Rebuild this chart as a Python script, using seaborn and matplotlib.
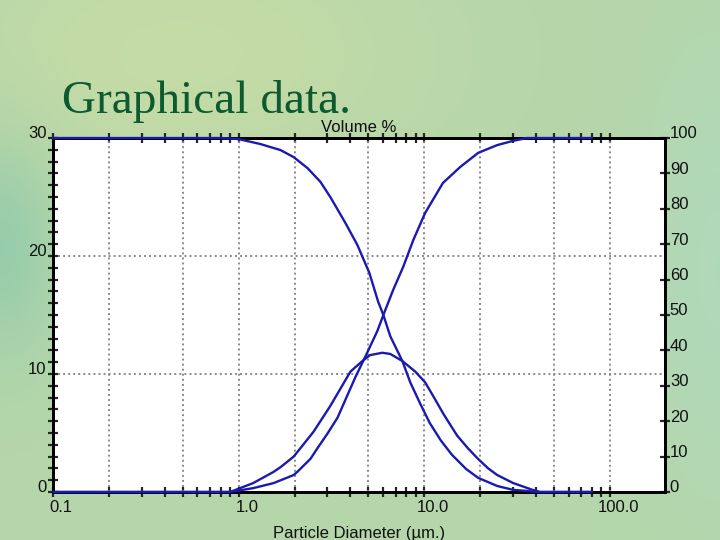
import numpy as np
import pandas as pd
import matplotlib
matplotlib.use("Agg")
import matplotlib.pyplot as plt
import matplotlib.ticker as mticker
import matplotlib.transforms as mtrans
import seaborn as sns

# ---------------- data ----------------
# differential volume % (left axis)
diam_freq = [0.1, 0.9, 1.2, 1.54, 1.68, 1.98, 2.53, 3.12, 4.0, 4.64, 5.1, 5.94,
             6.56, 7.62, 8.95, 10.1, 11.2, 12.7, 15.0, 17.2, 19.5, 22.1, 24.7,
             30.1, 38.5, 42.0, 80.0]
vol_freq = [0, 0, 0.76, 1.7, 2.1, 3.0, 5.1, 7.3, 10.2, 11.1, 11.6, 11.8,
            11.7, 11.1, 10.2, 9.3, 8.1, 6.6, 4.8, 3.7, 2.8, 2.0, 1.44,
            0.76, 0.17, 0, 0]

# cumulative undersize % (right axis)
diam_under = [0.1, 0.9, 1.2, 1.54, 1.98, 2.10, 2.44, 2.66, 3.01, 3.41, 3.67,
              4.26, 4.82, 5.59, 6.02, 6.8, 7.7, 8.73, 10.1, 12.6, 15.6, 19.5,
              24.7, 30.1, 35.7, 80.0]
cum_under = [0, 0, 1.1, 2.5, 4.8, 6.0, 9.4, 12.4, 16.5, 21.0, 24.8,
             32.5, 38.3, 45.5, 50.0, 57.1, 63.6, 71.2, 78.8, 87.3, 91.8, 95.8,
             98.0, 99.2, 100, 100]

# cumulative oversize % (right axis)
diam_over = [0.1, 0.8, 1.0, 1.31, 1.68, 1.98, 2.35, 2.76, 3.12, 3.76, 4.36,
             5.06, 5.64, 6.02, 6.56, 7.62, 8.4, 9.5, 10.7, 12.3, 14.1, 16.8,
             19.5, 24.7, 30.1, 35.7, 40.0, 80.0]
cum_over = [100, 100, 99.7, 98.3, 96.6, 94.6, 91.5, 87.6, 83.3, 76.0, 69.8,
            61.9, 53.8, 50.0, 44.0, 37.0, 31.0, 25.0, 19.5, 14.5, 10.5, 6.5,
            4.0, 1.7, 0.6, 0.3, 0, 0]

x_tick_vals = [0.1, 1, 10, 100]
x_tick_labels = ["0.1", "1.0", "10.0", "100.0"]
left_ticks = [0, 10, 20, 30]
right_ticks = [0, 10, 20, 30, 40, 50, 60, 70, 80, 90, 100]

title_text = "Graphical data."
top_label = "Volume %"
x_label = "Particle Diameter (\u00b5m.)"

freq_df = pd.DataFrame({"d": diam_freq, "v": vol_freq})
under_df = pd.DataFrame({"d": diam_under, "v": cum_under})
over_df = pd.DataFrame({"d": diam_over, "v": cum_over})

# ---------------- style ----------------
sns.set_style("ticks")
plt.rcParams["font.family"] = ["Liberation Sans", "DejaVu Sans"]

fig = plt.figure(figsize=(7.2, 5.4), dpi=100)

# soft green slide background
bg = fig.add_axes([0, 0, 1, 1], zorder=-10)
H, W = 540, 720
yy = np.linspace(0, 1, H)[:, None] * np.ones((1, W))
xx = np.ones((H, 1)) * np.linspace(0, 1, W)[None, :]
base = np.array([0.71, 0.84, 0.67])
img = np.ones((H, W, 3)) * base
w1 = np.exp(-(((xx - 0.25) / 0.35) ** 2 + ((yy - 0.1) / 0.25) ** 2))
img += w1[..., None] * np.array([0.06, 0.02, -0.02])
w2 = np.exp(-(((xx - 0.0) / 0.08) ** 2 + ((yy - 0.45) / 0.2) ** 2))
img += w2[..., None] * np.array([-0.12, -0.04, 0.0])
w3 = np.exp(-(((xx - 1.0) / 0.1) ** 2 + ((yy - 0.5) / 0.4) ** 2))
img += w3[..., None] * np.array([-0.02, 0.01, 0.06])
img = np.clip(img, 0, 1)
bg.imshow(img, aspect="auto", extent=[0, 1, 0, 1], origin="upper")
bg.set_axis_off()

ax = fig.add_axes([0.0736, 0.0889, 0.85, 0.6555])
ax.set_facecolor("white")
ax.set_xscale("log")
ax.set_xlim(0.1, 198)
ax.set_ylim(0, 30)

line_color = "#1a1ab0"
grid_color = "#8a8a8a"

for gx in [0.2, 0.5, 1, 2, 5, 10, 20, 50, 100]:
    ax.axvline(gx, color=grid_color, lw=1.4, ls=(0, (1, 1.6)), zorder=1)
for gy in [10, 20]:
    ax.axhline(gy, color=grid_color, lw=1.4, ls=(0, (1, 1.6)), zorder=1)

sns.lineplot(data=freq_df, x="d", y="v", ax=ax, color=line_color, lw=1.7,
             sort=False, estimator=None, clip_on=False, zorder=5)

ax2 = ax.twinx()
ax2.set_ylim(0, 100)
sns.lineplot(data=under_df, x="d", y="v", ax=ax2, color=line_color, lw=1.7,
             sort=False, estimator=None, clip_on=False, zorder=5)
sns.lineplot(data=over_df, x="d", y="v", ax=ax2, color=line_color, lw=1.7,
             sort=False, estimator=None, clip_on=False, zorder=5)

for a in (ax, ax2):
    a.set_xlabel("")
    a.set_ylabel("")
    for s in a.spines.values():
        s.set_color("black")
        s.set_linewidth(2)
        s.set_visible(True)

ax.set_xlim(0.1, 198)
ax.xaxis.set_major_locator(mticker.FixedLocator(x_tick_vals))
ax.xaxis.set_major_formatter(mticker.FixedFormatter(x_tick_labels))
ax.xaxis.set_minor_locator(mticker.LogLocator(base=10, subs=np.arange(2, 10), numticks=20))
ax.xaxis.set_minor_formatter(mticker.NullFormatter())
ax.yaxis.set_major_locator(mticker.FixedLocator(left_ticks))
ax.yaxis.set_minor_locator(mticker.MultipleLocator(1))
ax2.yaxis.set_major_locator(mticker.FixedLocator(right_ticks))
ax2.yaxis.set_minor_locator(mticker.NullLocator())

ax.tick_params(axis="x", which="both", direction="inout", length=7, width=1.6,
               top=True, bottom=True, labelsize=12, labelcolor="#111111", pad=2)
ax.tick_params(axis="y", which="both", direction="inout", length=7, width=1.6,
               left=True, right=False, labelsize=12, labelcolor="#111111", pad=1)
ax2.tick_params(axis="y", which="both", direction="inout", length=7, width=1.6,
                right=True, left=False, labelsize=12, labelcolor="#111111", pad=0)

fig.canvas.draw()
off_up = mtrans.ScaledTranslation(0, 4 / 72, fig.dpi_scale_trans)
off_right = mtrans.ScaledTranslation(6 / 72, 0, fig.dpi_scale_trans)
for t in ax.get_yticklabels():
    t.set_transform(t.get_transform() + off_up)
for t in ax2.get_yticklabels():
    t.set_transform(t.get_transform() + off_up)
for t in ax.get_xticklabels():
    t.set_transform(t.get_transform() + off_right)

ax.set_title(top_label, fontsize=12, pad=4, color="#111111")
ax.set_xlabel(x_label, fontsize=12, labelpad=8, color="#111111")

fig.text(0.086, 0.791, title_text, family=["Liberation Serif", "DejaVu Serif"],
         fontsize=34, color="#0d5a30", va="baseline", ha="left")

fig.savefig("out.png", dpi=100)
